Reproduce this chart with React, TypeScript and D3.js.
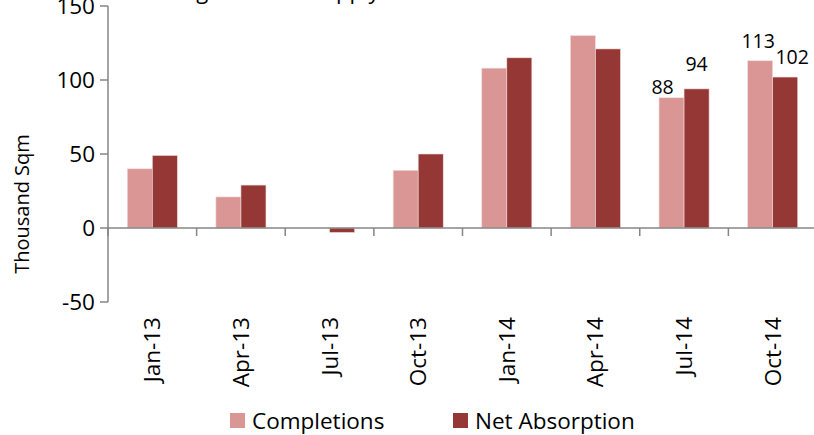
import React from "react";
import * as d3 from "d3";

const categories = ["Jan-13", "Apr-13", "Jul-13", "Oct-13", "Jan-14", "Apr-14", "Jul-14", "Oct-14"];
const completions = [40, 21, 0, 39, 108, 130, 88, 113];
const netAbsorption = [49, 29, -3, 50, 115, 121, 94, 102];
const seriesNames = ["Completions", "Net Absorption"];
const seriesColors = ["#DA9694", "#953735"];
const yTicks = [-50, 0, 50, 100, 150];
// data labels shown only for the last two periods
const completionLabels = [null, null, null, null, null, null, 88, 113];
const absorptionLabels = [null, null, null, null, null, null, 94, 102];

const W = 814;
const H = 435;
const FONT = "'Open Sans', sans-serif";
const FS = 22.5;

export default function App() {
  const left = 108;
  const right = 817;
  const y = d3.scaleLinear().domain([-50, 150]).range([302, 6]);
  const x0 = d3.scaleBand<string>().domain(categories).range([left, right]).paddingInner(0.435).paddingOuter(0.2175);
  const x1 = d3.scaleBand<string>().domain(seriesNames).range([0, x0.bandwidth()]).padding(0);
  const series = [completions, netAbsorption];
  const labels = [completionLabels, absorptionLabels];
  const labelNudge = [
    { dx: -9, dy: -4 },
    { dx: 0, dy: -18 },
  ];
  const labelNudgeLast = [
    { dx: -2, dy: -13 },
    { dx: 7, dy: -13 },
  ];
  const step = x0.step();
  const boundaries = d3.range(0, categories.length + 1).map((i) => left + i * step);

  return (
    <svg width={W} height={H} style={{ position: "absolute", left: 0, top: 0, background: "#fff" }} fontFamily={FONT}>
      <text x={255} y={-1} fontSize={22} textAnchor="middle" fill="#000">Leasing and New Supply</text>
      {/* bars */}
      {series.map((vals, si) =>
        vals.map((v, i) => {
          const xx = (x0(categories[i]) as number) + (x1(seriesNames[si]) as number);
          const y0 = y(0);
          const yv = y(v);
          return (
            <rect
              key={`b${si}-${i}`}
              x={xx}
              y={Math.min(y0, yv)}
              width={x1.bandwidth()}
              height={Math.abs(yv - y0)}
              fill={seriesColors[si]}
              stroke="#f1dcdb"
              strokeWidth={0.6}
            />
          );
        })
      )}
      {/* y axis */}
      <line x1={left} x2={left} y1={y(150)} y2={y(-50)} stroke="#868686" strokeWidth={1.5} />
      {yTicks.map((t) => (
        <g key={`yt${t}`}>
          <line x1={left - 8} x2={left} y1={y(t)} y2={y(t)} stroke="#868686" strokeWidth={1.5} />
          <text x={left - 13} y={y(t)} dy="0.36em" textAnchor="end" fontSize={FS} fill="#000">{t}</text>
        </g>
      ))}
      {/* x axis at zero */}
      <line x1={left} x2={W} y1={y(0)} y2={y(0)} stroke="#868686" strokeWidth={1.5} />
      {boundaries.map((bx, i) => (
        <line key={`xt${i}`} x1={bx} x2={bx} y1={y(0)} y2={y(0) + 8} stroke="#868686" strokeWidth={1.5} />
      ))}
      {categories.map((c) => {
        const cx = (x0(c) as number) + x0.bandwidth() / 2;
        return (
          <text key={`xl${c}`} transform={`translate(${cx + 8},317) rotate(-90)`} textAnchor="end" fontSize={FS} fill="#000">
            {c}
          </text>
        );
      })}
      {/* data labels */}
      {labels.map((arr, si) =>
        arr.map((lv, i) => {
          if (lv === null) return null;
          const cx = (x0(categories[i]) as number) + (x1(seriesNames[si]) as number) + x1.bandwidth() / 2;
          const nudge = i === categories.length - 1 ? labelNudgeLast[si] : labelNudge[si];
          return (
            <text key={`dl${si}-${i}`} x={cx + nudge.dx} y={y(lv) + nudge.dy} textAnchor="middle" fontSize={19.5} fill="#000">
              {lv}
            </text>
          );
        })
      )}
      {/* y axis title */}
      <text transform={`translate(29,${y(50) + 50}) rotate(-90)`} textAnchor="middle" fontSize={20} fill="#000">
        Thousand Sqm
      </text>
      {/* legend */}
      {seriesNames.map((n, i) => {
        const lx = i === 0 ? 230 : 453;
        return (
          <g key={`lg${n}`}>
            <rect x={lx} y={413} width={15} height={15} fill={seriesColors[i]} />
            <text x={lx + 22} y={428.5} fontSize={FS} fill="#000">{n}</text>
          </g>
        );
      })}
    </svg>
  );
}
